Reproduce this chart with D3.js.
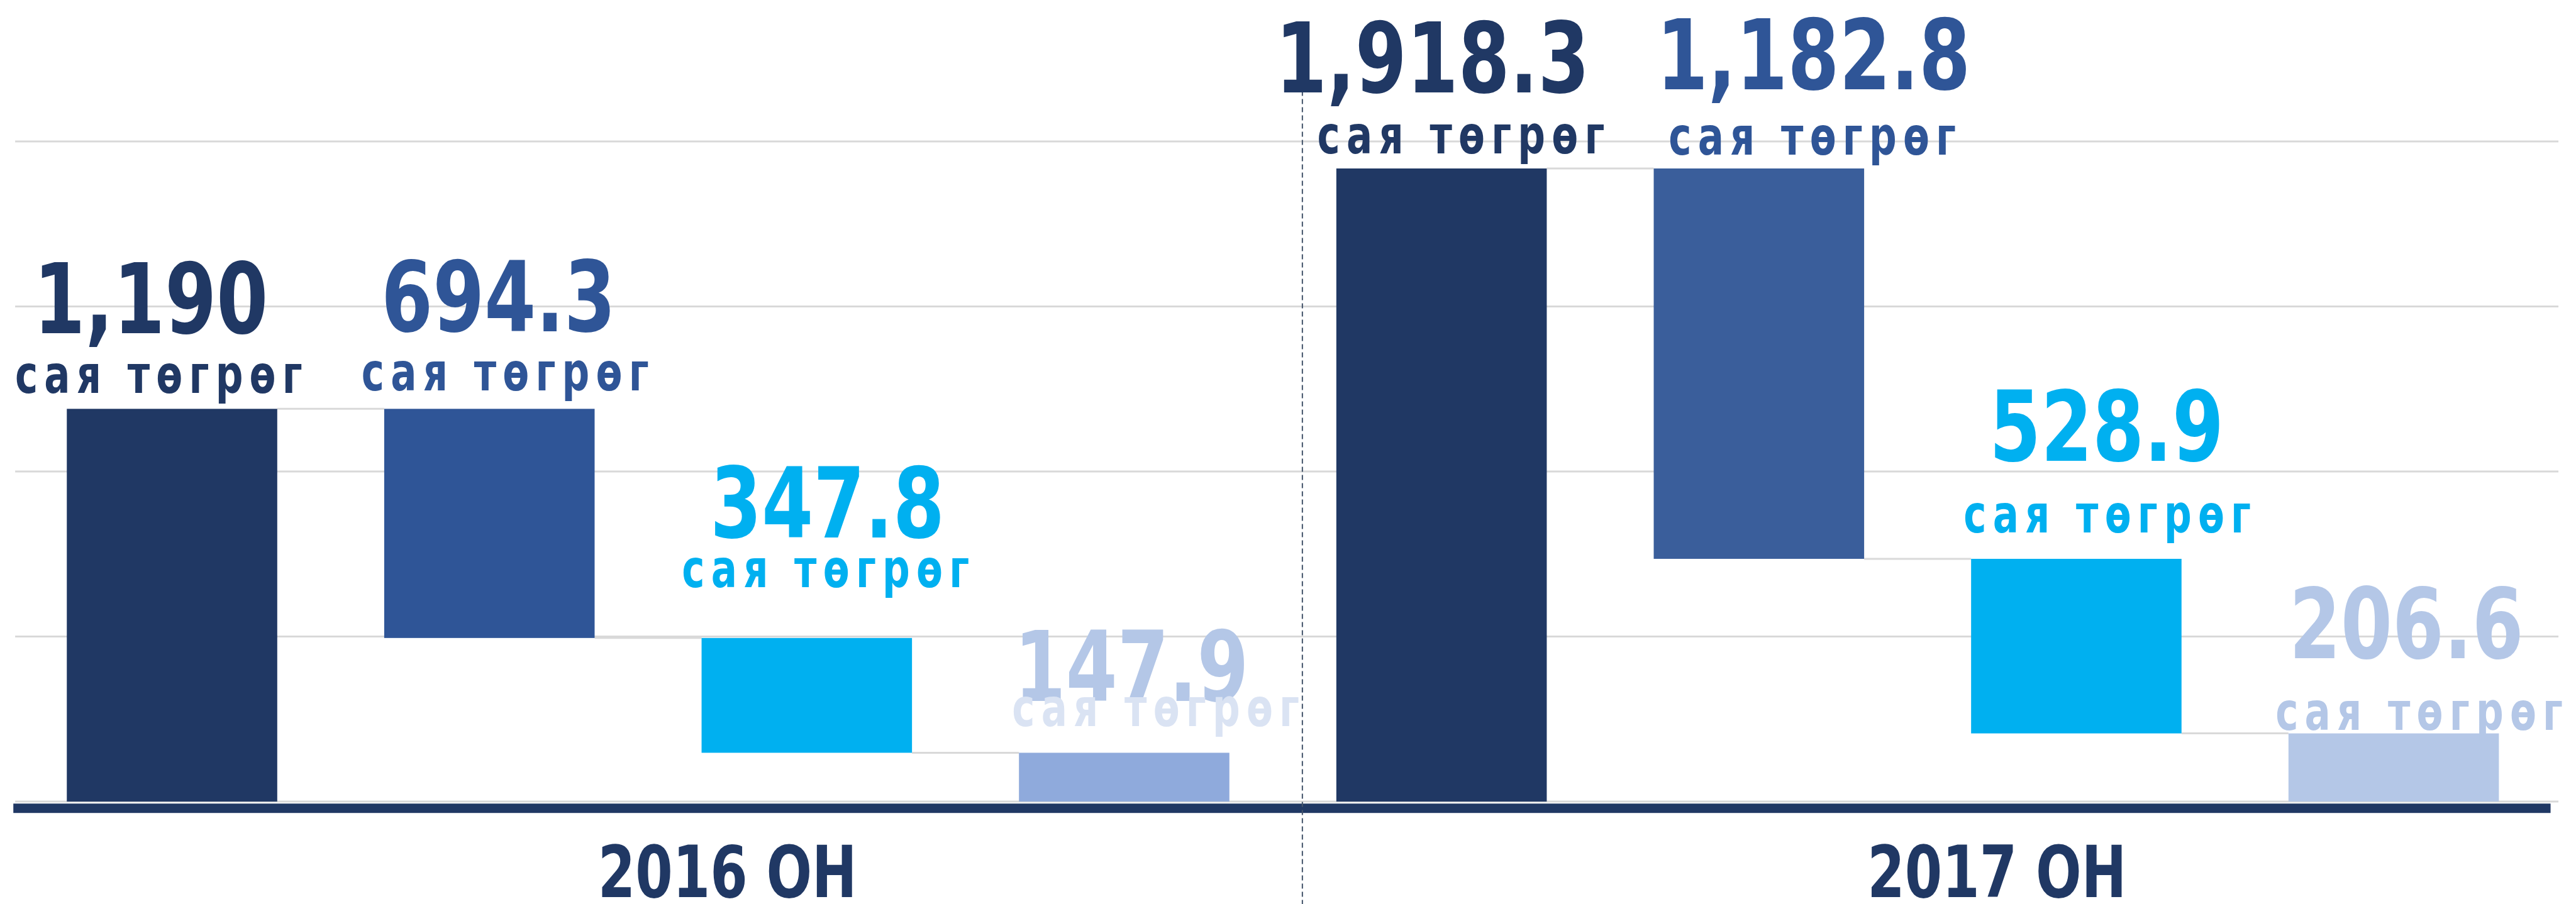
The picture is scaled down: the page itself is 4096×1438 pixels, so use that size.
<!DOCTYPE html>
<html>
<head>
<meta charset="utf-8">
<script src="https://cdn.jsdelivr.net/npm/d3@7"></script>
<style>
  html, body { margin: 0; padding: 0; background: #ffffff; }
  svg { display: block; }
</style>
</head>
<body>
<svg id="chart"></svg>
<script>
// ---------------- DATA ----------------
const groups = ["2016 ОН", "2017 ОН"];
const totals = [1190, 1918.3];
const breakdown2016 = [694.3, 347.8, 147.9];
const breakdown2017 = [1182.8, 528.9, 206.6];
const unitLabel = "сая төгрөг";
const yTicks = [0, 500, 1000, 1500, 2000];

// ---------------- LAYOUT / STYLE ----------------
const W = 4096, H = 1438;
const k = 0.964; // scale from reference pixels
const barFill   = ["#203864", "#2F5597", "#00B0F0", "#8FAADC", "#203864", "#3A5E9B", "#00B0F0", "#B4C7E7"];
const numFill   = ["#203864", "#2F5597", "#00B0F0", "#B4C7E7", "#203864", "#2F5597", "#00B0F0", "#B4C7E7"];
const unitFill  = ["#203864", "#2F5597", "#00B0F0", "#DAE3F3", "#203864", "#2F5597", "#00B0F0", "#B4C7E7"];
// label placement nudges (reference px): [number dx, number rise above bar top, unit dx, unit rise]
const labelNudge = [
  [-35, 125, -22, 26], [15, 128, 26, 30], [34, 166, 31, 84], [12, 85, 52, 44],
  [-15, 125, 32, 25], [90, 131, 88, 23], [50, 162, 51, 44], [21, 124, 42, 6]
];
const font = "'DejaVu Sans', sans-serif";
const numSize = 155, numSX = 0.76;
const unitSize = 84, unitLS = 14, unitWidth = 474 * k;
const catSize = 114, catSX = 0.75;

// ---------------- BUILD WATERFALL STEPS ----------------
const steps = [];
[breakdown2016, breakdown2017].forEach((parts, g) => {
  steps.push({ key: g + "-t", group: g, lo: 0, hi: totals[g], value: totals[g] });
  let level = totals[g];
  parts.forEach((v, i) => {
    steps.push({ key: g + "-" + i, group: g, lo: level - v, hi: level, value: v });
    level -= v;
  });
});

const svg = d3.select("#chart").attr("width", W).attr("height", H);

const x = d3.scaleBand()
  .domain(steps.map(d => d.key))
  .range([22 * k, 4210 * k])
  .paddingInner(0.337)
  .paddingOuter(0.1685);

const y = d3.scaleLinear()
  .domain([0, 2000])
  .range([1322.7 * k, 233.5 * k]);

// gridlines
svg.append("g").selectAll("line")
  .data(yTicks)
  .join("line")
  .attr("x1", 25 * k).attr("x2", 4220 * k)
  .attr("y1", d => y(d)).attr("y2", d => y(d))
  .attr("stroke", "#D9D9D9").attr("stroke-width", 3);

// connectors
const conn = [];
steps.forEach((d, i) => {
  const n = steps[i + 1];
  if (n && n.group === d.group) conn.push({ a: d, b: n, level: n.hi });
});
svg.append("g").selectAll("line")
  .data(conn)
  .join("line")
  .attr("x1", d => x(d.a.key) + x.bandwidth())
  .attr("x2", d => x(d.b.key))
  .attr("y1", d => y(d.level)).attr("y2", d => y(d.level))
  .attr("stroke", "#D9D9D9").attr("stroke-width", 3);

// bars
svg.append("g").selectAll("rect")
  .data(steps)
  .join("rect")
  .attr("x", d => x(d.key))
  .attr("width", x.bandwidth())
  .attr("y", d => y(d.hi))
  .attr("height", d => y(d.lo) - y(d.hi))
  .attr("fill", (d, i) => barFill[i]);

// axis bar
svg.append("rect")
  .attr("x", 22 * k).attr("width", (4207 - 22) * k)
  .attr("y", y(0) + 3.3 * k).attr("height", 15.5 * k)
  .attr("fill", "#203864");

// group divider
const firstOf2017 = steps.find(d => d.group === 1).key;
const divX = x(firstOf2017) - 0.107 * x.step();
svg.append("line")
  .attr("x1", divX).attr("x2", divX)
  .attr("y1", 150 * k).attr("y2", H)
  .attr("stroke", "#44546A").attr("stroke-width", 2)
  .attr("stroke-dasharray", "8,5");

// group labels
svg.append("g").selectAll("text")
  .data(groups)
  .join("text")
  .attr("transform", (d, g) => {
    const gs = steps.filter(s => s.group === g);
    const c = (x(gs[0].key) + x(gs[gs.length - 1].key) + x.bandwidth()) / 2;
    return `translate(${c + 0.25 * x.step()},${1480 * k}) scale(${catSX},1)`;
  })
  .attr("text-anchor", "middle")
  .attr("font-family", font)
  .attr("font-weight", "bold")
  .attr("font-size", catSize)
  .attr("fill", "#203864")
  .text(d => d);

// value labels
const fmt = d3.format(",");
const lab = svg.append("g");
lab.selectAll("text.num")
  .data(steps)
  .join("text")
  .attr("class", "num")
  .attr("transform", (d, i) => {
    const cx = x(d.key) + x.bandwidth() / 2 + labelNudge[i][0] * k;
    const by = y(d.hi) - labelNudge[i][1] * k;
    return `translate(${cx},${by}) scale(${numSX},1)`;
  })
  .attr("text-anchor", "middle")
  .attr("font-family", font)
  .attr("font-weight", "bold")
  .attr("font-size", numSize)
  .attr("fill", (d, i) => numFill[i])
  .text(d => fmt(d.value));

const units = lab.selectAll("text.unit")
  .data(steps)
  .join("text")
  .attr("class", "unit")
  .attr("text-anchor", "middle")
  .attr("font-family", font)
  .attr("font-weight", "bold")
  .attr("font-size", unitSize)
  .attr("letter-spacing", unitLS)
  .attr("fill", (d, i) => unitFill[i])
  .text(unitLabel);

units.each(function (d, i) {
  const t = d3.select(this);
  const natural = this.getComputedTextLength() - unitLS; // drop trailing spacing
  const sx = unitWidth / natural;
  const cx = x(d.key) + x.bandwidth() / 2 + labelNudge[i][2] * k + (unitLS / 2) * sx;
  const by = y(d.hi) - labelNudge[i][3] * k;
  t.attr("transform", `translate(${cx},${by}) scale(${sx},1)`);
});
</script>
</body>
</html>
